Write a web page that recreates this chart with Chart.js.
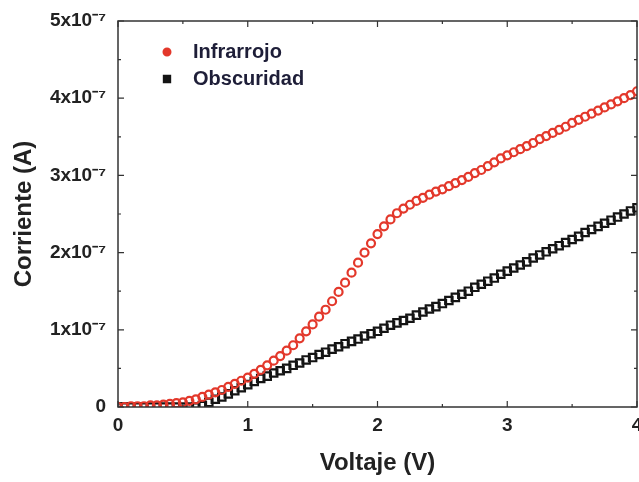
<!DOCTYPE html>
<html>
<head>
<meta charset="utf-8">
<script src="https://cdn.jsdelivr.net/npm/chart.js@4.4.0/dist/chart.umd.min.js"></script>
<style>
    html, body { margin: 0; padding: 0; background: #fff; overflow: hidden; }
    #wrap { width: 639px; height: 482px; overflow: hidden; }
</style>
</head>
<body>
<div id="wrap"><canvas id="chart" width="639" height="482"></canvas></div>
<script>
// Voltaje (V)
const voltaje = [
    0.00, 0.05, 0.10, 0.15, 0.20, 0.25, 0.30, 0.35, 0.40, 0.45,
    0.50, 0.55, 0.60, 0.65, 0.70, 0.75, 0.80, 0.85, 0.90, 0.95,
    1.00, 1.05, 1.10, 1.15, 1.20, 1.25, 1.30, 1.35, 1.40, 1.45,
    1.50, 1.55, 1.60, 1.65, 1.70, 1.75, 1.80, 1.85, 1.90, 1.95,
    2.00, 2.05, 2.10, 2.15, 2.20, 2.25, 2.30, 2.35, 2.40, 2.45,
    2.50, 2.55, 2.60, 2.65, 2.70, 2.75, 2.80, 2.85, 2.90, 2.95,
    3.00, 3.05, 3.10, 3.15, 3.20, 3.25, 3.30, 3.35, 3.40, 3.45,
    3.50, 3.55, 3.60, 3.65, 3.70, 3.75, 3.80, 3.85, 3.90, 3.95,
    4.00
];

// Corriente en unidades de 1e-7 A
const infrarrojo = [
    0.00, 0.00, 0.01, 0.01, 0.01, 0.02, 0.02, 0.03, 0.04, 0.05,
    0.06, 0.08, 0.10, 0.13, 0.16, 0.19, 0.22, 0.26, 0.30, 0.34,
    0.38, 0.43, 0.48, 0.54, 0.60, 0.66, 0.73, 0.80, 0.89, 0.98,
    1.07, 1.17, 1.26, 1.37, 1.49, 1.61, 1.74, 1.87, 2.00, 2.12,
    2.24, 2.34, 2.43, 2.51, 2.57, 2.62, 2.67, 2.71, 2.75, 2.79,
    2.82, 2.86, 2.90, 2.94, 2.98, 3.03, 3.07, 3.12, 3.17, 3.22,
    3.26, 3.30, 3.34, 3.38, 3.42, 3.47, 3.51, 3.55, 3.59, 3.63,
    3.68, 3.72, 3.76, 3.80, 3.84, 3.88, 3.92, 3.96, 4.00, 4.04,
    4.09
];

const obscuridad = [
    0.00, 0.00, 0.00, 0.00, 0.00, 0.00, 0.00, 0.00, 0.00, 0.00,
    0.00, 0.00, 0.00, 0.02, 0.06, 0.10, 0.13, 0.17, 0.21, 0.25,
    0.29, 0.33, 0.37, 0.40, 0.44, 0.47, 0.50, 0.54, 0.57, 0.61,
    0.64, 0.68, 0.71, 0.75, 0.78, 0.82, 0.85, 0.88, 0.92, 0.95,
    0.98, 1.02, 1.06, 1.09, 1.12, 1.15, 1.19, 1.23, 1.27, 1.30,
    1.34, 1.38, 1.42, 1.46, 1.50, 1.55, 1.59, 1.63, 1.67, 1.72,
    1.76, 1.80, 1.84, 1.88, 1.93, 1.97, 2.01, 2.05, 2.09, 2.13,
    2.17, 2.21, 2.26, 2.30, 2.34, 2.38, 2.42, 2.46, 2.50, 2.54,
    2.58
];

const ticksX = [0, 1, 2, 3, 4];
const ticksY = [0, 1, 2, 3, 4, 5];

const rojo = '#e3382b';
const negro = '#141414';
const texto = '#222222';

function toPoints(xs, ys) {
    return xs.map((x, i) => ({ x: x, y: ys[i] }));
}

// Marco con marcas hacia dentro en los cuatro lados + leyenda dentro del gráfico
const marcoPlugin = {
    id: 'marco',
    afterDraw(chart) {
        const ctx = chart.ctx;
        const area = chart.chartArea;
        const xs = chart.scales.x;
        const ys = chart.scales.y;

        ctx.save();
        ctx.strokeStyle = '#333';
        ctx.lineWidth = 1.5;
        ctx.strokeRect(area.left, area.top, area.right - area.left, area.bottom - area.top);

        ctx.lineWidth = 1.2;
        ctx.beginPath();
        for (let v = 0; v <= 4.001; v += 0.5) {
            const px = xs.getPixelForValue(v);
            const len = Math.abs(v - Math.round(v)) < 0.01 ? 6 : 3;
            ctx.moveTo(px, area.bottom); ctx.lineTo(px, area.bottom - len);
            ctx.moveTo(px, area.top); ctx.lineTo(px, area.top + len);
        }
        for (let v = 0; v <= 5.001; v += 0.5) {
            const py = ys.getPixelForValue(v);
            const len = Math.abs(v - Math.round(v)) < 0.01 ? 6 : 3;
            ctx.moveTo(area.left, py); ctx.lineTo(area.left + len, py);
            ctx.moveTo(area.right, py); ctx.lineTo(area.right - len, py);
        }
        ctx.stroke();

        // leyenda
        const filas = [52, 79];
        chart.data.datasets.forEach((ds, i) => {
            const y = filas[i];
            ctx.fillStyle = ds.borderColor;
            ctx.strokeStyle = ds.borderColor;
            ctx.lineWidth = 2;
            Chart.helpers.drawPoint(ctx, {
                pointStyle: ds.pointStyle,
                radius: ds.pointStyle === 'rect' ? 4.5 : 3.5,
                borderWidth: 2,
                rotation: 0
            }, 167, y);
            ctx.fillStyle = '#1e1e38';
            ctx.font = 'bold 20px "Liberation Sans", Arial, sans-serif';
            ctx.textBaseline = 'middle';
            ctx.textAlign = 'left';
            ctx.fillText(ds.label, 193, y);
        });
        ctx.restore();
    }
};

const ctx = document.getElementById('chart').getContext('2d');
new Chart(ctx, {
    type: 'scatter',
    data: {
        datasets: [
            {
                label: 'Infrarrojo',
                data: toPoints(voltaje, infrarrojo),
                pointStyle: 'circle',
                pointRadius: 4,
                pointBorderWidth: 2.2,
                borderColor: rojo,
                backgroundColor: 'rgba(255,255,255,0)',
                clip: 0
            },
            {
                label: 'Obscuridad',
                data: toPoints(voltaje, obscuridad),
                pointStyle: 'rect',
                pointRadius: 5.2,
                pointBorderWidth: 2.2,
                borderColor: negro,
                backgroundColor: 'rgba(255,255,255,0)',
                clip: 0
            }
        ]
    },
    options: {
        responsive: false,
        animation: false,
        events: [],
        layout: { autoPadding: false, padding: { top: 21, right: 2, left: 0, bottom: 0 } },
        plugins: {
            legend: { display: false },
            tooltip: { enabled: false }
        },
        scales: {
            x: {
                type: 'linear',
                min: 0,
                max: 4,
                grid: { display: false, drawTicks: false },
                border: { display: false },
                afterBuildTicks(scale) {
                    scale.ticks = ticksX.map(v => ({ value: v }));
                },
                afterFit(scale) {
                    scale.height = 75;
                    scale.paddingLeft = 0;
                    scale.paddingRight = 0;
                },
                ticks: {
                    padding: 7,
                    color: texto,
                    font: { family: '"Liberation Sans", Arial, sans-serif', size: 19, weight: 'bold' },
                    callback: v => String(v)
                },
                title: {
                    display: true,
                    text: 'Voltaje (V)',
                    color: texto,
                    padding: { bottom: 4 },
                    font: { family: '"Liberation Sans", Arial, sans-serif', size: 24, weight: 'bold' }
                }
            },
            y: {
                type: 'linear',
                min: 0,
                max: 5,
                grid: { display: false, drawTicks: false },
                border: { display: false },
                afterBuildTicks(scale) {
                    scale.ticks = ticksY.map(v => ({ value: v }));
                },
                afterFit(scale) {
                    scale.width = 118;
                    scale.paddingTop = 0;
                    scale.paddingBottom = 0;
                },
                ticks: {
                    padding: 12,
                    color: texto,
                    font: { family: '"Liberation Sans", Arial, sans-serif', size: 19, weight: 'bold' },
                    callback: v => (v === 0 ? '0' : v + 'x10\u207B\u2077')
                },
                title: {
                    display: true,
                    text: 'Corriente (A)',
                    color: texto,
                    padding: { top: 10 },
                    font: { family: '"Liberation Sans", Arial, sans-serif', size: 24, weight: 'bold' }
                }
            }
        }
    },
    plugins: [marcoPlugin]
});
</script>
</body>
</html>
